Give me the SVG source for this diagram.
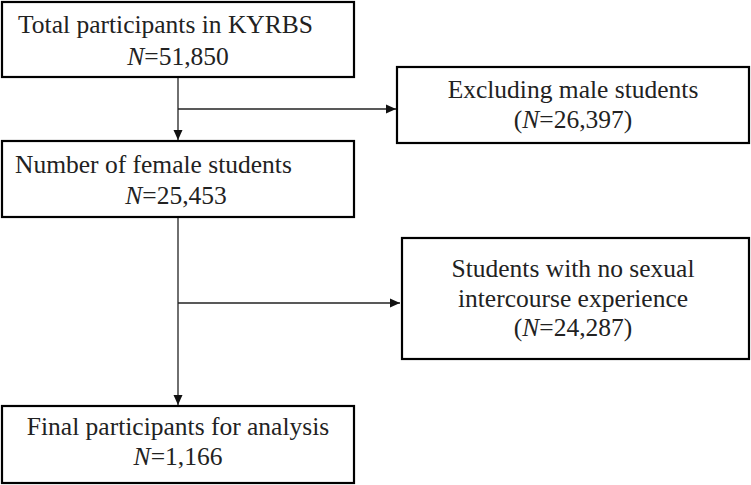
<svg xmlns="http://www.w3.org/2000/svg" width="751" height="485" viewBox="0 0 751 485">
<style>
.box{fill:#fff;stroke:#000;stroke-width:2.2}
.t{font-family:"Liberation Serif","Times New Roman",serif;font-size:25.5px;fill:#222}
.c{text-anchor:middle}
.ln{stroke:#222;stroke-width:1.3;fill:none}
</style>
<defs>
<marker id="ah" markerWidth="10" markerHeight="10" refX="10" refY="5" orient="auto" markerUnits="userSpaceOnUse">
<path d="M0,0.5 L10,5 L0,9.5 Z" fill="#111"/>
</marker>
</defs>
<g id="connectors">
<path class="ln" d="M178,78 V140" marker-end="url(#ah)"/>
<path class="ln" d="M178,109 H396" marker-end="url(#ah)"/>
<path class="ln" d="M178,218 V405" marker-end="url(#ah)"/>
<path class="ln" d="M178,303 H400" marker-end="url(#ah)"/>
</g>
<g id="total">
<rect class="box" x="2" y="2" width="352" height="75"/>
<text class="t" x="18" y="33">Total participants in KYRBS</text>
<text class="t c" x="178" y="65"><tspan font-style="italic">N</tspan>=51,850</text>
</g>
<g id="excluding">
<rect class="box" x="397" y="67" width="352" height="76"/>
<text class="t c" x="573" y="98">Excluding male students</text>
<text class="t c" x="573" y="128">(<tspan font-style="italic">N</tspan>=26,397)</text>
</g>
<g id="female">
<rect class="box" x="2" y="141" width="352" height="76"/>
<text class="t" x="15" y="173">Number of female students</text>
<text class="t c" x="176" y="204"><tspan font-style="italic">N</tspan>=25,453</text>
</g>
<g id="nosex">
<rect class="box" x="402" y="238" width="347" height="121"/>
<text class="t c" x="573" y="277">Students with no sexual</text>
<text class="t c" x="573" y="307">intercourse experience</text>
<text class="t c" x="573" y="336">(<tspan font-style="italic">N</tspan>=24,287)</text>
</g>
<g id="final">
<rect class="box" x="2" y="406" width="352" height="77"/>
<text class="t c" x="178" y="435">Final participants for analysis</text>
<text class="t c" x="178" y="465"><tspan font-style="italic">N</tspan>=1,166</text>
</g>
</svg>
